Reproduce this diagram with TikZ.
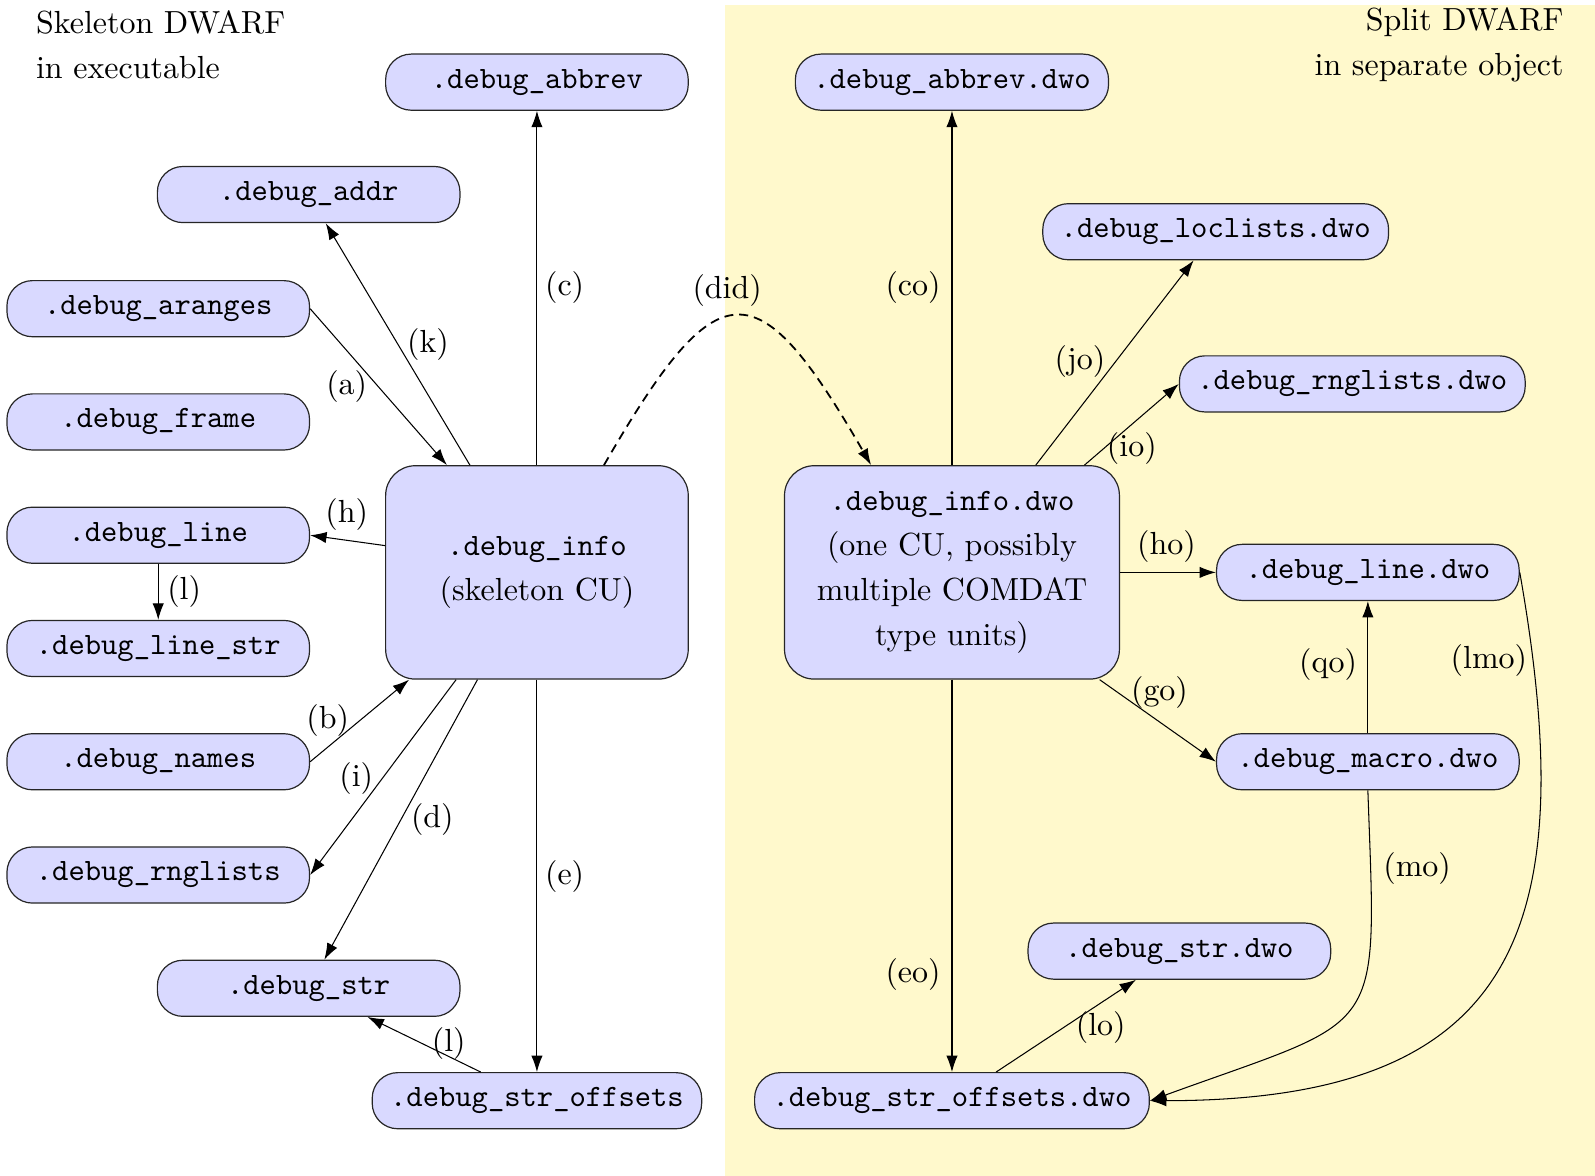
\documentclass[tikz,border=0pt]{standalone}
\usepackage{tikz}
\usetikzlibrary{arrows.meta}
\definecolor{sec_blue}{RGB}{217, 217, 255}
\definecolor{split_yellow}{RGB}{255, 249, 204}
\newcommand{\serifsize}{\fontsize{10.7}{15}\selectfont}
\newcommand{\secname}[1]{{\fontsize{10.4}{15}\selectfont\ttfamily #1}}
\tikzstyle{sec}=[rectangle,rounded corners=0.3cm,fill=sec_blue,draw=black!85,
  line width=0.4pt,inner xsep=6pt,minimum width=3.56cm,minimum height=0.66cm,
  font=\fontsize{10.4}{15}\selectfont\ttfamily]
\tikzstyle{cu}=[rectangle,rounded corners=0.35cm,fill=sec_blue,draw=black!85,
  line width=0.4pt,inner sep=6pt,minimum width=3.56cm,minimum height=2.51cm,
  align=center,font=\serifsize]
\tikzstyle{lab}=[inner sep=0pt,font=\serifsize]
\tikzstyle{ref}=[-{Latex[length=5.5pt,width=3.8pt]},line width=0.35pt]
\tikzstyle{dref}=[ref,dash pattern=on 3pt off 2pt,line width=0.6pt]
\tikzstyle{none}=[]

\begin{document}
\begin{tikzpicture}[x=1.0172cm, y=1.0172cm]
	\useasboundingbox (0, 0) rectangle (18.447, -13.601);
	\fill [fill=split_yellow] (8.385, -0.058) rectangle (18.447, -13.601);
	% skeleton side
	\node [style=sec] (0) at (6.21, -0.95) {.debug\_abbrev};
	\node [style=sec] (1) at (3.57, -2.25) {.debug\_addr};
	\node [style=sec] (2) at (1.83, -3.57) {.debug\_aranges};
	\node [style=sec] (3) at (1.83, -4.88) {.debug\_frame};
	\node [style=sec] (4) at (1.83, -6.19) {.debug\_line};
	\node [style=sec] (5) at (1.83, -7.5) {.debug\_line\_str};
	\node [style=sec] (6) at (1.83, -8.81) {.debug\_names};
	\node [style=sec] (7) at (1.83, -10.12) {.debug\_rnglists};
	\node [style=sec] (8) at (3.57, -11.43) {.debug\_str};
	\node [style=sec] (9) at (6.21, -12.73) {.debug\_str\_offsets};
	\node [style=cu] (10) at (6.21, -6.62) {\secname{.debug\_info}\\(skeleton CU)};
	% split side
	\node [style=sec] (11) at (11.01, -0.95) {.debug\_abbrev.dwo};
	\node [style=sec] (12) at (14.06, -2.68) {.debug\_loclists.dwo};
	\node [style=sec] (13) at (15.64, -4.44) {.debug\_rnglists.dwo};
	\node [style=cu, minimum width=3.94cm] (14) at (11.01, -6.62) {\secname{.debug\_info.dwo}\\(one CU, possibly\\multiple COMDAT\\type units)};
	\node [style=sec] (15) at (15.82, -6.62) {.debug\_line.dwo};
	\node [style=sec] (16) at (15.82, -8.81) {.debug\_macro.dwo};
	\node [style=sec] (17) at (13.64, -11.0) {.debug\_str.dwo};
	\node [style=sec] (18) at (11.01, -12.73) {.debug\_str\_offsets.dwo};
	% labels
	\node [style=lab] (19) at (6.53, -3.33) {(c)};
	\node [style=lab] (20) at (4.95, -3.98) {(k)};
	\node [style=lab] (21) at (4.01, -4.47) {(a)};
	\node [style=lab] (22) at (4.01, -5.95) {(h)};
	\node [style=lab] (23) at (2.13, -6.84) {(l)};
	\node [style=lab] (24) at (3.79, -8.33) {(b)};
	\node [style=lab] (25) at (4.12, -9.0) {(i)};
	\node [style=lab] (26) at (5.0, -9.48) {(d)};
	\node [style=lab] (27) at (6.53, -10.14) {(e)};
	\node [style=lab] (28) at (5.19, -12.07) {(l)};
	\node [style=lab] (29) at (8.41, -3.36) {(did)};
	\node [style=lab] (30) at (10.56, -3.33) {(co)};
	\node [style=lab] (31) at (12.49, -4.18) {(jo)};
	\node [style=lab] (32) at (13.09, -5.19) {(io)};
	\node [style=lab] (33) at (13.49, -6.32) {(ho)};
	\node [style=lab] (34) at (13.41, -8.01) {(go)};
	\node [style=lab] (35) at (15.36, -7.69) {(qo)};
	\node [style=lab] (36) at (17.22, -7.64) {(lmo)};
	\node [style=lab] (37) at (16.39, -10.04) {(mo)};
	\node [style=lab] (38) at (10.56, -11.27) {(eo)};
	\node [style=lab] (39) at (12.73, -11.88) {(lo)};
	\node [style=lab, anchor=west, align=left] (40) at (0.41, -0.52) {Skeleton DWARF\\in executable};
	\node [style=lab, anchor=east, align=right] (41) at (18.09, -0.52) {Split DWARF\\in separate object};
	% edges
	\draw [style=ref] (10.north) to (0);
	\draw [style=ref] (10.122) to (1);
	\draw [style=ref] (2.east) to (10.130);
	\draw [style=ref] (10.170) to (4.east);
	\draw [style=ref] (4) to (5);
	\draw [style=ref] (6.east) to (10.220);
	\draw [style=ref] (10.233) to (7.east);
	\draw [style=ref] (10.241) to (8);
	\draw [style=ref] (10) to (9);
	\draw [style=ref] (9.153) to (8);
	\draw [style=dref, out=60, in=120, looseness=2.2] (10.58) to (14.127);
	\draw [style=ref] (14) to (11);
	\draw [style=ref] (14.52) to (12);
	\draw [style=ref] (14.39) to (13.west);
	\draw [style=ref] (14) to (15);
	\draw [style=ref] (14.324) to (16.west);
	\draw [style=ref] (16) to (15);
	\draw [style=ref, out=-80, in=0, looseness=1.45] (15.east) to (18.east);
	\draw [style=ref, out=-88, in=20, looseness=1.7] (16.south) to (18.east);
	\draw [style=ref] (14) to (18);
	\draw [style=ref] (18.33) to (17);
\end{tikzpicture}
\end{document}
